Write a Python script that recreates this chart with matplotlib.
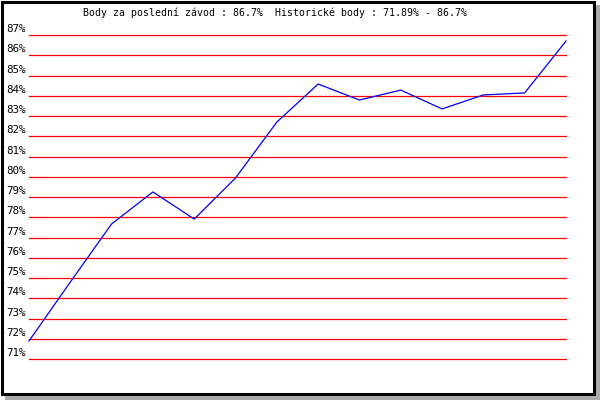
import matplotlib
matplotlib.use("Agg")
import matplotlib.pyplot as plt
from matplotlib.patches import Rectangle

# race results (percent)
races = list(range(14))
points = [71.89, 74.80, 77.67, 79.25, 77.91, 79.94, 82.70,
          84.58, 83.79, 84.28, 83.35, 84.04, 84.14, 86.70]
y_ticks = list(range(71, 88))
title = "Body za poslední závod : 86.7%  Historické body : 71.89% - 86.7%"

W, H = 600, 400
fig = plt.figure(figsize=(6, 4), dpi=100)

# shadow + framed white panel
fig.patches.append(Rectangle((5 / W, 0), 595 / W, 395 / H, transform=fig.transFigure,
                             facecolor="#aaaaaa", edgecolor="none", zorder=-2))
fig.patches.append(Rectangle((1.5 / W, 6.5 / H), 592 / W, 392 / H, transform=fig.transFigure,
                             facecolor="white", edgecolor="black", linewidth=2.2, zorder=-1))

ax = fig.add_axes([29 / W, 1 - 359 / H, (566 - 29) / W, (359 - 35) / H])
ax.set_zorder(2)
ax.set_facecolor("none")
ax.set_xlim(0, len(races) - 1)
ax.set_ylim(71, 87)

for v in y_ticks:
    ax.axhline(v, color="red", lw=0.9, zorder=1, clip_on=False)
    ax.annotate(f"{v}%", xy=(0, v), xytext=(-2, 2), textcoords="offset points",
                ha="right", va="baseline", fontsize=7.8, family="DejaVu Sans Mono")

ax.plot(races, points, color="#0000ee", lw=0.9, zorder=3, clip_on=False)

for s in ax.spines.values():
    s.set_visible(False)
ax.set_xticks([])
ax.set_yticks([])

fig.text(83 / W, 1 - 13 / H, title, ha="left", va="center",
         fontsize=7.1, family="DejaVu Sans Mono", zorder=3)

fig.savefig("out.png", dpi=100)
